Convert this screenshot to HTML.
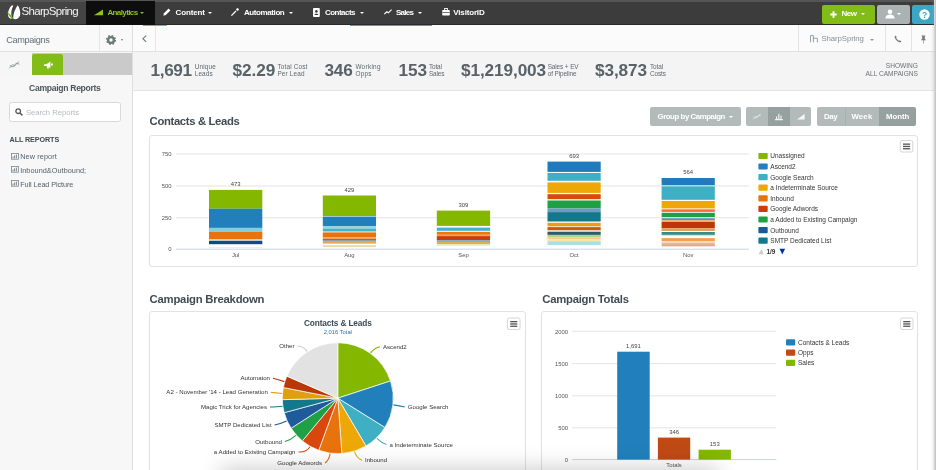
<!DOCTYPE html>
<html><head><meta charset="utf-8"><title>SharpSpring Campaigns</title>
<style>
*{box-sizing:border-box;margin:0;padding:0}
html,body{width:936px;height:470px;overflow:hidden;background:#fff;font-family:"Liberation Sans",sans-serif;color:#4a5258}
.abs{position:absolute}
svg{position:absolute;overflow:visible}
#nav{position:absolute;left:0;top:0;width:934px;height:25px;background:#3c3c3c;border-top:2px solid #555;border-bottom:1px solid #2a2a2a}
#logo{position:absolute;left:0;top:0;width:86px;height:22px;background:#444}
#logo span{position:absolute;left:21.5px;top:3.1px;font-size:11.5px;color:#f2f2f2;letter-spacing:-0.68px}
#ana{position:absolute;left:86px;top:-1px;width:69px;height:24px;background:#0d0d0d}
.ni{position:absolute;top:5.5px;font-size:8px;font-weight:bold;color:#fff;letter-spacing:-0.3px;white-space:nowrap}
.car{position:absolute;top:10px;width:0;height:0;border-left:2.3px solid transparent;border-right:2.3px solid transparent;border-top:2.6px solid #fff}
.btn{position:absolute;border-radius:2px}
#side{position:absolute;left:0;top:25px;width:133px;height:445px;background:#f7f7f7;border-right:1px solid #dedede}
#tb{position:absolute;left:133px;top:25px;width:801px;height:27px;background:#fbfbfb;border-bottom:1px solid #e1e1e1}
#stats{position:absolute;left:133px;top:52px;width:801px;height:38.5px;background:#f4f4f4;border-bottom:1px solid #e4e4e4}
.big{position:absolute;top:60.5px;font-size:17.2px;line-height:19px;font-weight:bold;color:#586268;letter-spacing:-0.1px;white-space:nowrap}
.sm{position:absolute;top:62.8px;font-size:6.4px;line-height:7.1px;color:#5d686e;white-space:nowrap}
.h{position:absolute;font-size:11.3px;font-weight:bold;color:#414b52;letter-spacing:-0.35px;white-space:nowrap}
.card{position:absolute;border:1px solid #e2e2e2;border-radius:3px;background:#fff}
.rp{position:absolute;left:20.2px;font-size:7.3px;color:#56626a;letter-spacing:-0.1px;white-space:nowrap}
.gb{position:absolute;top:107px;height:18.7px;background:#b3bbba;color:#fff;font-size:7.8px;font-weight:bold;letter-spacing:-0.3px;white-space:nowrap}
.gb.on{background:#96a09f}
.gb span{position:absolute;top:4.8px}
#w{position:absolute;left:0;top:0;width:936px;height:470px;overflow:hidden;filter:blur(0.55px)}
</style></head><body>
<div id="w">
<div id="nav">
 <div id="logo"><span id="lg">SharpSpring</span>
  <svg style="left:6.6px;top:3.3px" width="14" height="16" viewBox="0 0 14 16"><path d="M4.6 0.6C2.2 3.4 0.2 7.6 1.4 11.6C2.2 13.6 4 14.2 5 13.2C3.6 9.2 4.2 4.2 6.4 0.4Z" fill="#fff"/><path d="M10.8 0.2C8.4 3.6 6 8.6 6.2 13.6C8.4 15.2 11.8 14 13 10.6C13.8 7.2 12.6 3 10.8 0.2Z" fill="#fff"/><path d="M0 7.2C2 8 4.2 9.6 6.4 13.8C4.4 14 2.6 12 0 7.2Z" fill="#6cb820"/></svg>
 </div>
 <div id="ana">
  <svg style="left:8px;top:8px" width="10" height="7" viewBox="0 0 10 7"><path d="M0 6.2L9 0.6V6.2Z" fill="#8cc21b"/></svg>
  <span class="ni" id="n1" style="left:21.4px;top:6.5px;color:#8cc21b;letter-spacing:-0.6px">Analytics</span><i class="car" style="left:53.5px;top:11px;border-top-color:#8cc21b"></i></div>
 <svg style="left:163px;top:6px" width="8" height="8" viewBox="0 0 8 8"><path d="M0.3 7.7L1 5.2L5.6 0.6L7.4 2.4L2.8 7Z" fill="#fff"/></svg>
 <span class="ni" id="n2" style="left:175.6px;letter-spacing:-0.13px">Content</span><i class="car" style="left:208px"></i>
 <svg style="left:231px;top:6px" width="8" height="8" viewBox="0 0 8 8"><path d="M0.4 7.6L5 3M6.5 0.3V2.8M5.2 1.5H7.8" stroke="#fff" stroke-width="1.3" fill="none"/></svg>
 <span class="ni" id="n3" style="left:244px;letter-spacing:-0.41px">Automation</span><i class="car" style="left:289px"></i>
 <svg style="left:313.3px;top:5.5px" width="7" height="9" viewBox="0 0 7 9"><rect x="0" y="0" width="6.8" height="9" rx="1" fill="#fff"/><circle cx="3.4" cy="3.4" r="1.3" fill="#3c3c3c"/><path d="M1.4 7C1.4 5.2 5.4 5.2 5.4 7Z" fill="#3c3c3c"/></svg>
 <span class="ni" id="n4" style="left:324.9px;letter-spacing:-0.51px">Contacts</span><i class="car" style="left:360px"></i>
 <svg style="left:384px;top:7px" width="8" height="6" viewBox="0 0 8 6"><path d="M0.3 5.2L2.8 2.8L4.4 3.8L7.6 0.6" stroke="#fff" stroke-width="1.1" fill="none"/></svg>
 <span class="ni" id="n5" style="left:396px;letter-spacing:-0.72px">Sales</span><i class="car" style="left:418px"></i>
 <svg style="left:441.5px;top:6px" width="8" height="8" viewBox="0 0 8 8"><rect x="0.2" y="2" width="7.6" height="5.6" rx="0.8" fill="#fff"/><rect x="2.6" y="0.5" width="2.8" height="2" fill="none" stroke="#fff" stroke-width="0.9"/><rect x="0.2" y="4.2" width="7.6" height="0.7" fill="#3c3c3c"/></svg>
 <span class="ni" id="n6" style="left:453.3px;letter-spacing:-0.17px">VisitorID</span>
 <div class="btn" style="left:822px;top:2.5px;width:52.5px;height:19px;background:#82bc16">
  <svg style="left:8px;top:6px" width="7" height="7" viewBox="0 0 7 7"><path d="M3.5 0.3V6.7M0.3 3.5H6.7" stroke="#fff" stroke-width="1.9"/></svg>
  <span class="ni" id="n7" style="left:19.6px;top:4.5px;letter-spacing:-0.5px">New</span><i class="car" style="left:38.8px;top:8.5px"></i></div>
 <div class="btn" style="left:877px;top:2.5px;width:32.5px;height:19px;background:#aab3b2">
  <svg style="left:8px;top:4.5px" width="10" height="10" viewBox="0 0 10 10"><circle cx="5" cy="2.8" r="2.3" fill="#fff"/><path d="M0.4 9.4C0.6 6.4 3 5.6 5 5.6S9.4 6.4 9.6 9.4Z" fill="#fff"/></svg>
  <i class="car" style="left:20px;top:8.5px"></i></div>
 <div class="btn" style="left:912px;top:2.5px;width:22px;height:19px;background:#3aa7c5;border-radius:2px 0 0 2px">
  <svg style="left:6.5px;top:4px" width="11" height="11" viewBox="0 0 11 11"><circle cx="5.5" cy="5.5" r="5.2" fill="#fff"/><text x="5.5" y="8.6" font-size="8.5" font-weight="bold" fill="#3aa7c5" text-anchor="middle" font-family="Liberation Sans, sans-serif">?</text></svg></div>
</div>
<div class="abs" style="left:350px;top:25px;width:82px;height:1px;background:#4a9fd0;z-index:5"></div>
<div class="abs" style="left:143px;top:25px;width:24px;height:1px;background:#6aaed6;z-index:5"></div>
<div id="side">
 <div class="abs" style="left:0;top:0;width:132px;height:27px;background:#f9f9f9;border-bottom:1px solid #e0e0e0"></div>
 <div class="abs" style="left:98.5px;top:0;width:1px;height:26px;background:#e6e6e6"></div>
 <div class="abs" id="s1" style="left:6.2px;top:9.8px;font-size:9.2px;color:#5d6f7a;letter-spacing:-0.35px">Campaigns</div>
 <svg style="left:106px;top:10px" width="10" height="10" viewBox="0 0 10 10"><circle cx="5" cy="5" r="2.9" fill="none" stroke="#6a7a7a" stroke-width="2.4"/><circle cx="5" cy="5" r="4.3" fill="none" stroke="#6a7a7a" stroke-width="1.5" stroke-dasharray="1.7 1.68"/></svg>
 <i class="car" style="left:120.5px;top:14px;border-top-color:#6a7a7a;border-left-width:1.9px;border-right-width:1.9px;border-top-width:2.2px"></i>
 <div class="abs" style="left:0;top:27.5px;width:132px;height:22px;background:#cacaca"></div>
 <div class="abs" style="left:0;top:27.5px;width:31.6px;height:22px;background:#f6f6f6"></div>
 <svg style="left:9.4px;top:36px" width="11" height="8" viewBox="0 0 11 8"><path d="M0.3 7.2L3.6 3.6L5.6 4.8L10 0.6M0.8 4.4L4 6L7.2 2.2L10.4 3.2" stroke="#8a9498" stroke-width="0.9" fill="none"/></svg>
 <div class="abs" style="left:31.6px;top:29px;width:31.6px;height:20.5px;background:#82bc16;border-radius:2.5px 2.5px 0 0"></div>
 <svg style="left:43.5px;top:36px" width="9" height="8" viewBox="0 0 9 8"><path d="M0.2 3.2H2.4L6.4 0.4V7L2.4 5H0.2Z M2.6 5.2L3.6 7.8H5L4.2 5.6Z M7 2.4H8.8V4.6H7Z" fill="#fff"/></svg>
 <div class="abs" id="s2" style="left:29px;top:58px;font-size:8.6px;font-weight:bold;color:#4a565e;letter-spacing:-0.3px;white-space:nowrap">Campaign Reports</div>
 <div class="abs" style="left:9.3px;top:77.4px;width:112px;height:19.8px;border:1px solid #d9d9d9;border-radius:2.5px;background:#fff">
  <svg style="left:5px;top:5px" width="8" height="8" viewBox="0 0 8 8"><circle cx="3.2" cy="3.2" r="2.3" fill="none" stroke="#555" stroke-width="1.3"/><path d="M5 5L7.4 7.4" stroke="#555" stroke-width="1.5"/></svg>
  <span class="abs" id="s3" style="left:15.6px;top:4.8px;font-size:7.65px;color:#b4babd;white-space:nowrap">Search Reports</span></div>
 <div class="abs" id="s4" style="left:9.6px;top:109.5px;font-size:7.2px;font-weight:bold;color:#3f484e;letter-spacing:-0.1px;white-space:nowrap">ALL REPORTS</div>
 <svg style="left:10.6px;top:127.8px" width="8" height="7" viewBox="0 0 8 7"><rect x="0.4" y="0.4" width="7" height="5.8" fill="none" stroke="#7a868c" stroke-width="0.8"/><path d="M2 5.4V3.6M3.6 5.4V2.4M5.4 5.4V1.6" stroke="#7a868c" stroke-width="1"/></svg>
 <svg style="left:10.6px;top:141.4px" width="8" height="7" viewBox="0 0 8 7"><rect x="0.4" y="0.4" width="7" height="5.8" fill="none" stroke="#7a868c" stroke-width="0.8"/><path d="M2 5.4V3.6M3.6 5.4V2.4M5.4 5.4V1.6" stroke="#7a868c" stroke-width="1"/></svg>
 <svg style="left:10.6px;top:154.8px" width="8" height="7" viewBox="0 0 8 7"><rect x="0.4" y="0.4" width="7" height="5.8" fill="none" stroke="#7a868c" stroke-width="0.8"/><path d="M2 5.4V3.6M3.6 5.4V2.4M5.4 5.4V1.6" stroke="#7a868c" stroke-width="1"/></svg>
 <div class="rp" id="r1" style="top:127.3px;letter-spacing:0.1px">New report</div>
 <div class="rp" id="r2" style="top:141px;letter-spacing:0.04px">Inbound&amp;Outbound;</div>
 <div class="rp" id="r3" style="top:154.5px">Full Lead Picture</div>
</div>
<div id="tb">
 <svg style="left:9px;top:10px" width="5" height="8" viewBox="0 0 5 8"><path d="M4.2 0.6L0.9 3.7L4.2 6.8" stroke="#6a7a82" stroke-width="1.1" fill="none"/></svg>
 <div class="abs" style="left:21.8px;top:0;width:1px;height:26px;background:#e6e6e6"></div>
 <div class="abs" style="left:665.2px;top:0;width:1px;height:26px;background:#e4e4e4"></div>
 <div class="abs" style="left:752.2px;top:0;width:1px;height:26px;background:#e4e4e4"></div>
 <div class="abs" style="left:778.2px;top:0;width:1px;height:26px;background:#e4e4e4"></div>
 <svg style="left:677px;top:10px" width="8" height="8" viewBox="0 0 8 8"><path d="M0.5 7.4V0.6H3.4V7.4M3.4 3.2H7.4V7.4" stroke="#8d979c" stroke-width="0.9" fill="none"/></svg>
 <div class="abs" id="t1" style="left:688.5px;top:8.8px;font-size:7.8px;color:#868f95;letter-spacing:-0.1px;white-space:nowrap">SharpSpring</div>
 <i class="car" style="left:736.7px;top:13.5px;border-top-color:#8d979c;border-left-width:2.1px;border-right-width:2.1px;border-top-width:2.4px"></i>
 <svg style="left:761px;top:9.5px" width="8" height="8" viewBox="0 0 8 8"><path d="M1.2 0.5C0.2 1.4 0.6 3.4 2.6 5.4S6.6 7.8 7.5 6.8L6 5.2L5 5.8C4 5.4 2.6 4 2.2 3L2.8 2Z" fill="#6f7c82"/></svg>
 <svg style="left:787px;top:9.5px" width="7" height="9" viewBox="0 0 7 9"><path d="M1.6 0.4H5.4V1.2H4.8V3.8L6.2 5.2H0.8L2.2 3.8V1.2H1.6Z M3.2 5.2H3.8V8.6H3.2Z" fill="#6f7c82"/></svg>
</div>
<div id="stats"></div>
<span class="big" id="b1" style="left:150.6px;letter-spacing:-0.4px">1,691</span><span class="sm" id="m1" style="left:194.7px;letter-spacing:0.15px">Unique<br>Leads</span>
<span class="big" id="b2" style="left:232.6px">$2.29</span><span class="sm" id="m2" style="left:277.4px;letter-spacing:0.17px">Total Cost<br>Per Lead</span>
<span class="big" id="b3" style="left:324.4px">346</span><span class="sm" id="m3" style="left:355.4px;letter-spacing:0.3px">Working<br>Opps</span>
<span class="big" id="b4" style="left:398.6px">153</span><span class="sm" id="m4" style="left:428.9px;letter-spacing:-0.1px">Total<br>Sales</span>
<span class="big" id="b5" style="left:461px">$1,219,003</span><span class="sm" id="m5" style="left:547.7px;letter-spacing:-0.1px">Sales + EV<br>of Pipeline</span>
<span class="big" id="b6" style="left:595px">$3,873</span><span class="sm" id="m6" style="left:650px;letter-spacing:-0.1px">Total<br>Costs</span>
<div class="sm" id="m7" style="left:830px;top:62.4px;width:88px;text-align:right;font-size:6.6px;line-height:7.6px;color:#6a7175">SHOWING<br>ALL CAMPAIGNS</div>

<div class="h" id="h1" style="left:149.6px;top:115px">Contacts &amp; Leads</div>
<div class="gb btn" style="left:649.5px;width:91px"><span id="g1" style="left:8px;letter-spacing:-0.42px">Group by Campaign</span><i class="car" style="left:79.5px;top:8.5px;border-left-width:2px;border-right-width:2px;border-top-width:2.3px"></i></div>
<div class="gb btn" style="left:746px;width:22px;border-radius:2px 0 0 2px"><svg style="left:7px;top:6px" width="8" height="7" viewBox="0 0 8 7"><path d="M0.3 6.2L3 3L4.6 4.2L7.6 0.6M0.6 3.8L3.2 5.2L5.6 2.2L7.8 3" stroke="#dfe4e4" stroke-width="0.8" fill="none"/></svg></div>
<div class="gb on" style="left:768px;width:21.5px"><svg style="left:7px;top:6px" width="8" height="7" viewBox="0 0 8 7"><path d="M0 6.6H8M1.6 6V3.6M3.8 6V0.8M6 6V2.6" stroke="#eef2f2" stroke-width="1.2" fill="none"/></svg></div>
<div class="gb btn" style="left:789.5px;width:21.3px;border-radius:0 2px 2px 0"><svg style="left:7px;top:6px" width="8" height="7" viewBox="0 0 8 7"><path d="M0 6.6L7.6 1V6.6Z" fill="#f4f6f6"/></svg></div>
<div class="gb btn" style="left:817px;width:28px;border-radius:2px 0 0 2px"><span id="g2" style="left:7px">Day</span></div>
<div class="gb" style="left:845px;width:34px;border-left:1px solid #a8b1b0"><span id="g3" style="left:5.4px;letter-spacing:0.2px">Week</span></div>
<div class="gb on btn" style="left:879px;width:37px;border-radius:0 2px 2px 0"><span id="g4" style="left:7px;letter-spacing:0px">Month</span></div>
<div class="card" style="left:148.6px;top:134.6px;width:769.4px;height:132.6px"></div>
<div class="h" id="h2" style="left:149.6px;top:292.9px;letter-spacing:-0.22px">Campaign Breakdown</div>
<div class="card" style="left:148.6px;top:310.6px;width:377.4px;height:170px"></div>
<div class="h" id="h3" style="left:542.3px;top:292.9px;letter-spacing:-0.25px">Campaign Totals</div>
<div class="card" style="left:541.2px;top:310.6px;width:376.8px;height:170px"></div>
<!--CHARTS--><svg class="abs" style="left:0;top:0" width="936" height="470" viewBox="0 0 936 470" font-family="Liberation Sans, sans-serif">
<rect x="176" y="153.5" width="573" height="1" fill="#e4e4e4"/>
<text x="171.5" y="156.2" font-size="5.9" fill="#555" text-anchor="end">750</text>
<rect x="176" y="185.5" width="573" height="1" fill="#e4e4e4"/>
<text x="171.5" y="188.2" font-size="5.9" fill="#555" text-anchor="end">500</text>
<rect x="176" y="217.2" width="573" height="1" fill="#e4e4e4"/>
<text x="171.5" y="219.89999999999998" font-size="5.9" fill="#555" text-anchor="end">250</text>
<rect x="176" y="248.7" width="573" height="1" fill="#c8d4e0"/>
<text x="171.5" y="251.39999999999998" font-size="5.9" fill="#555" text-anchor="end">0</text>
<rect x="209" y="189.9" width="53.3" height="18.80" fill="#84b800"/>
<rect x="209" y="208.7" width="53.3" height="19.20" fill="#2180bb"/>
<rect x="209" y="227.9" width="53.3" height="4.00" fill="#7fd0dd"/>
<rect x="209" y="231.9" width="53.3" height="7.50" fill="#e8720c"/>
<rect x="209" y="240.7" width="53.3" height="3.50" fill="#0d4a8a"/>
<rect x="209" y="247.2" width="53.3" height="0.70" fill="#f3e6d2"/>
<text x="235.65" y="185.9" font-size="5.9" fill="#444" text-anchor="middle">473</text>
<text x="235.65" y="256.8" font-size="5.9" fill="#555" text-anchor="middle">Jul</text>
<rect x="322.8" y="195.5" width="53.2" height="20.60" fill="#84b800"/>
<rect x="322.8" y="216.6" width="53.2" height="9.70" fill="#2180bb"/>
<rect x="322.8" y="226.3" width="53.2" height="2.40" fill="#8fd3de"/>
<rect x="322.8" y="228.7" width="53.2" height="2.80" fill="#3fb3c8"/>
<rect x="322.8" y="232.4" width="53.2" height="4.80" fill="#e8720c"/>
<rect x="322.8" y="237.2" width="53.2" height="1.90" fill="#f0a060"/>
<rect x="322.8" y="239.1" width="53.2" height="1.60" fill="#2a7ab8"/>
<rect x="322.8" y="240.7" width="53.2" height="2.90" fill="#e0a858"/>
<rect x="322.8" y="245.2" width="53.2" height="1.90" fill="#e3dba3"/>
<text x="349.40000000000003" y="191.5" font-size="5.9" fill="#444" text-anchor="middle">429</text>
<text x="349.40000000000003" y="256.8" font-size="5.9" fill="#555" text-anchor="middle">Aug</text>
<rect x="436.8" y="210.6" width="53.3" height="15.30" fill="#84b800"/>
<rect x="436.8" y="227.6" width="53.3" height="3.20" fill="#3fb3cc"/>
<rect x="436.8" y="231.8" width="53.3" height="3.00" fill="#f0780a"/>
<rect x="436.8" y="234.8" width="53.3" height="1.30" fill="#f0a060"/>
<rect x="436.8" y="236.1" width="53.3" height="3.90" fill="#d03c08"/>
<rect x="436.8" y="240" width="53.3" height="2.00" fill="#8ab0c8"/>
<rect x="436.8" y="242" width="53.3" height="2.20" fill="#e0b050"/>
<rect x="436.8" y="244.2" width="53.3" height="1.50" fill="#e3eaa8"/>
<text x="463.45" y="206.6" font-size="5.9" fill="#444" text-anchor="middle">309</text>
<text x="463.45" y="256.8" font-size="5.9" fill="#555" text-anchor="middle">Sep</text>
<rect x="547.5" y="161.6" width="53.2" height="10.30" fill="#1f7bbd"/>
<rect x="547.5" y="173" width="53.2" height="7.80" fill="#3fb0c4"/>
<rect x="547.5" y="182.4" width="53.2" height="10.50" fill="#eda807"/>
<rect x="547.5" y="194.2" width="53.2" height="5.00" fill="#d84a0c"/>
<rect x="547.5" y="200.5" width="53.2" height="8.00" fill="#1fa045"/>
<rect x="547.5" y="208.5" width="53.2" height="3.60" fill="#6b9bc0"/>
<rect x="547.5" y="212.1" width="53.2" height="9.40" fill="#13788c"/>
<rect x="547.5" y="222.8" width="53.2" height="3.20" fill="#e8a010"/>
<rect x="547.5" y="226" width="53.2" height="1.10" fill="#f3dcb8"/>
<rect x="547.5" y="227.1" width="53.2" height="3.30" fill="#cc5a0c"/>
<rect x="547.5" y="230.4" width="53.2" height="1.40" fill="#f0e0c8"/>
<rect x="547.5" y="231.8" width="53.2" height="3.10" fill="#2c5a70"/>
<rect x="547.5" y="234.9" width="53.2" height="2.30" fill="#a8d888"/>
<rect x="547.5" y="237.2" width="53.2" height="2.20" fill="#f8c890"/>
<rect x="547.5" y="239.4" width="53.2" height="1.80" fill="#f8e8a8"/>
<rect x="547.5" y="241.2" width="53.2" height="3.80" fill="#a8e0e0"/>
<text x="574.1" y="157.6" font-size="5.9" fill="#444" text-anchor="middle">693</text>
<text x="574.1" y="256.8" font-size="5.9" fill="#555" text-anchor="middle">Oct</text>
<rect x="661.6" y="178" width="53.2" height="7.10" fill="#1f7bbd"/>
<rect x="661.6" y="185.1" width="53.2" height="1.30" fill="#a0d8e0"/>
<rect x="661.6" y="186.4" width="53.2" height="13.40" fill="#3fb0c4"/>
<rect x="661.6" y="201" width="53.2" height="7.10" fill="#eda807"/>
<rect x="661.6" y="208.1" width="53.2" height="1.30" fill="#f6d890"/>
<rect x="661.6" y="209.4" width="53.2" height="2.50" fill="#f07040"/>
<rect x="661.6" y="212.8" width="53.2" height="4.30" fill="#1fa045"/>
<rect x="661.6" y="218.2" width="53.2" height="1.90" fill="#5a90c0"/>
<rect x="661.6" y="220.1" width="53.2" height="1.90" fill="#e8b070"/>
<rect x="661.6" y="222" width="53.2" height="6.20" fill="#b83808"/>
<rect x="661.6" y="228.2" width="53.2" height="2.80" fill="#e0a060"/>
<rect x="661.6" y="232" width="53.2" height="2.90" fill="#3a8a88"/>
<rect x="661.6" y="234.9" width="53.2" height="1.30" fill="#d0e8d0"/>
<rect x="661.6" y="238.1" width="53.2" height="2.90" fill="#f0a050"/>
<rect x="661.6" y="241" width="53.2" height="2.10" fill="#f8d8c0"/>
<rect x="661.6" y="243.1" width="53.2" height="1.90" fill="#d8b890"/>
<rect x="661.6" y="245" width="53.2" height="1.30" fill="#f0a080"/>
<text x="688.2" y="174" font-size="5.9" fill="#444" text-anchor="middle">564</text>
<text x="688.2" y="256.8" font-size="5.9" fill="#555" text-anchor="middle">Nov</text>
<clipPath id="lc"><rect x="750" y="153" width="160" height="110"/></clipPath><g clip-path="url(#lc)">
<rect x="758.4" y="152.8" width="9.3" height="6.2" rx="1" fill="#84b800"/>
<text x="770.3" y="158.3" font-size="6.5" fill="#333">Unassigned</text>
<rect x="758.4" y="163.4" width="9.3" height="6.2" rx="1" fill="#2180bb"/>
<text x="770.3" y="168.9" font-size="6.5" fill="#333">Ascend2</text>
<rect x="758.4" y="174.0" width="9.3" height="6.2" rx="1" fill="#3fb0c4"/>
<text x="770.3" y="179.5" font-size="6.5" fill="#333">Google Search</text>
<rect x="758.4" y="184.60000000000002" width="9.3" height="6.2" rx="1" fill="#eda807"/>
<text x="770.3" y="190.10000000000002" font-size="6.5" fill="#333">a Indeterminate Source</text>
<rect x="758.4" y="195.20000000000002" width="9.3" height="6.2" rx="1" fill="#e8720c"/>
<text x="770.3" y="200.70000000000002" font-size="6.5" fill="#333">Inbound</text>
<rect x="758.4" y="205.8" width="9.3" height="6.2" rx="1" fill="#d03c08"/>
<text x="770.3" y="211.3" font-size="6.5" fill="#333">Google Adwords</text>
<rect x="758.4" y="216.4" width="9.3" height="6.2" rx="1" fill="#1fa045"/>
<text x="770.3" y="221.9" font-size="6.5" fill="#333">a Added to Existing Campaign</text>
<rect x="758.4" y="227.0" width="9.3" height="6.2" rx="1" fill="#1a5a96"/>
<text x="770.3" y="232.5" font-size="6.5" fill="#333">Outbound</text>
<rect x="758.4" y="237.60000000000002" width="9.3" height="6.2" rx="1" fill="#13788c"/>
<text x="770.3" y="243.10000000000002" font-size="6.5" fill="#333">SMTP Dedicated List</text>
</g>
<path d="M758.6 254.2 l2.6 -5 l2.6 5z" fill="#ccc"/><text x="766.5" y="254" font-size="6.4" font-weight="bold" fill="#333">1/9</text><path d="M779.5 248.8 h5.6 l-2.8 5.6z" fill="#039"/>
<rect x="900.3" y="140.5" width="12.5" height="11.5" rx="1.5" fill="#fff" stroke="#ccc" stroke-width="0.8"/>
<rect x="903.0" y="143.5" width="7.1" height="1.3" fill="#555"/>
<rect x="903.0" y="145.8" width="7.1" height="1.3" fill="#555"/>
<rect x="903.0" y="148.1" width="7.1" height="1.3" fill="#555"/>
<rect x="507.5" y="318" width="12.5" height="11.5" rx="1.5" fill="#fff" stroke="#ccc" stroke-width="0.8"/>
<rect x="510.2" y="321.0" width="7.1" height="1.3" fill="#555"/>
<rect x="510.2" y="323.3" width="7.1" height="1.3" fill="#555"/>
<rect x="510.2" y="325.6" width="7.1" height="1.3" fill="#555"/>
<rect x="900.5" y="318" width="12.5" height="11.5" rx="1.5" fill="#fff" stroke="#ccc" stroke-width="0.8"/>
<rect x="903.2" y="321.0" width="7.1" height="1.3" fill="#555"/>
<rect x="903.2" y="323.3" width="7.1" height="1.3" fill="#555"/>
<rect x="903.2" y="325.6" width="7.1" height="1.3" fill="#555"/>
<path d="M337.8 398.2 L337.80 342.70 A55.5 55.5 0 0 1 390.55 380.96Z" fill="#84b800" stroke="#fff" stroke-width="0.7" stroke-linejoin="round"/>
<path d="M337.8 398.2 L390.55 380.96 A55.5 55.5 0 0 1 384.92 427.53Z" fill="#2180bb" stroke="#fff" stroke-width="0.7" stroke-linejoin="round"/>
<path d="M337.8 398.2 L384.92 427.53 A55.5 55.5 0 0 1 365.97 446.02Z" fill="#3fb0c4" stroke="#fff" stroke-width="0.7" stroke-linejoin="round"/>
<path d="M337.8 398.2 L365.97 446.02 A55.5 55.5 0 0 1 341.86 453.55Z" fill="#eda807" stroke="#fff" stroke-width="0.7" stroke-linejoin="round"/>
<path d="M337.8 398.2 L341.86 453.55 A55.5 55.5 0 0 1 318.73 450.32Z" fill="#e8720c" stroke="#fff" stroke-width="0.7" stroke-linejoin="round"/>
<path d="M337.8 398.2 L318.73 450.32 A55.5 55.5 0 0 1 302.35 440.90Z" fill="#d8480c" stroke="#fff" stroke-width="0.7" stroke-linejoin="round"/>
<path d="M337.8 398.2 L302.35 440.90 A55.5 55.5 0 0 1 291.15 428.26Z" fill="#1fa045" stroke="#fff" stroke-width="0.7" stroke-linejoin="round"/>
<path d="M337.8 398.2 L291.15 428.26 A55.5 55.5 0 0 1 284.22 412.66Z" fill="#1f5a9a" stroke="#fff" stroke-width="0.7" stroke-linejoin="round"/>
<path d="M337.8 398.2 L284.22 412.66 A55.5 55.5 0 0 1 282.32 399.65Z" fill="#13788c" stroke="#fff" stroke-width="0.7" stroke-linejoin="round"/>
<path d="M337.8 398.2 L282.32 399.65 A55.5 55.5 0 0 1 283.34 387.52Z" fill="#dfa010" stroke="#fff" stroke-width="0.7" stroke-linejoin="round"/>
<path d="M337.8 398.2 L283.34 387.52 A55.5 55.5 0 0 1 286.86 376.16Z" fill="#b83808" stroke="#fff" stroke-width="0.7" stroke-linejoin="round"/>
<path d="M337.8 398.2 L286.86 376.16 A55.5 55.5 0 0 1 337.80 342.70Z" fill="#e2e2e2" stroke="#fff" stroke-width="0.7" stroke-linejoin="round"/>
<text x="337.8" y="326" font-size="8.3" font-weight="bold" fill="#3a4a55" text-anchor="middle" letter-spacing="-0.15">Contacts &amp; Leads</text>
<text x="337.8" y="333.5" font-size="5.8" fill="#2a6ea8" text-anchor="middle">2,016 Total</text>
<text x="383" y="348.7" font-size="6.1" fill="#333" text-anchor="start">Ascend2</text>
<path d="M370.7 352.9 Q374.5 347.6 380.0 346.7" fill="none" stroke="#84b800" stroke-width="1.1"/>
<text x="407.8" y="409" font-size="6.1" fill="#333" text-anchor="start">Google Search</text>
<path d="M393.4 404.9 Q399.8 405.7 404.8 407.0" fill="none" stroke="#2180bb" stroke-width="1.1"/>
<text x="389.5" y="446.5" font-size="6.1" fill="#333" text-anchor="start">a Indeterminate Source</text>
<path d="M376.9 438.3 Q381.5 442.9 386.5 444.5" fill="none" stroke="#3fb0c4" stroke-width="1.1"/>
<text x="365" y="462.3" font-size="6.1" fill="#333" text-anchor="start">Inbound</text>
<path d="M354.5 451.7 Q356.4 457.9 362.0 460.3" fill="none" stroke="#eda807" stroke-width="1.1"/>
<text x="322" y="465" font-size="6.1" fill="#333" text-anchor="end">Google Adwords</text>
<path d="M330.1 453.7 Q329.2 460.1 325.0 463.0" fill="none" stroke="#e8720c" stroke-width="1.1"/>
<text x="295.5" y="454" font-size="6.1" fill="#333" text-anchor="end">a Added to Existing Campaign</text>
<path d="M309.9 446.7 Q306.6 452.4 298.5 452.0" fill="none" stroke="#d8480c" stroke-width="1.1"/>
<text x="282" y="443.5" font-size="6.1" fill="#333" text-anchor="end">Outbound</text>
<path d="M295.9 435.3 Q291.0 439.7 285.0 441.5" fill="none" stroke="#1fa045" stroke-width="1.1"/>
<text x="271.6" y="427" font-size="6.1" fill="#333" text-anchor="end">SMTP Dedicated List</text>
<path d="M286.6 420.9 Q280.7 423.6 274.6 425.0" fill="none" stroke="#1f5a9a" stroke-width="1.1"/>
<text x="267" y="409" font-size="6.1" fill="#333" text-anchor="end">Magic Trick for Agencies</text>
<path d="M282.4 406.3 Q276.0 407.2 270.0 407.0" fill="none" stroke="#13788c" stroke-width="1.1"/>
<text x="267.8" y="394.4" font-size="6.1" fill="#333" text-anchor="end">A2 - November '14 - Lead Generation</text>
<path d="M282.0 393.5 Q275.5 393.0 270.8 392.4" fill="none" stroke="#dfa010" stroke-width="1.1"/>
<text x="270" y="380.3" font-size="6.1" fill="#333" text-anchor="end">Automaton</text>
<path d="M284.3 381.6 Q278.1 379.7 273.0 378.3" fill="none" stroke="#b83808" stroke-width="1.1"/>
<text x="294.5" y="348" font-size="6.1" fill="#333" text-anchor="end">Other</text>
<path d="M307.1 351.4 Q303.5 346.0 297.5 346.0" fill="none" stroke="#ccc" stroke-width="1.1"/>
<rect x="572.3" y="330.8" width="204" height="1" fill="#e4e4e4"/>
<text x="568" y="333.5" font-size="5.9" fill="#555" text-anchor="end">2000</text>
<rect x="572.3" y="363.1" width="204" height="1" fill="#e4e4e4"/>
<text x="568" y="365.8" font-size="5.9" fill="#555" text-anchor="end">1500</text>
<rect x="572.3" y="395.3" width="204" height="1" fill="#e4e4e4"/>
<text x="568" y="398.0" font-size="5.9" fill="#555" text-anchor="end">1000</text>
<rect x="572.3" y="427.3" width="204" height="1" fill="#e4e4e4"/>
<text x="568" y="430.0" font-size="5.9" fill="#555" text-anchor="end">500</text>
<rect x="572.3" y="459.1" width="204" height="1" fill="#c8d4e0"/>
<text x="568" y="461.8" font-size="5.9" fill="#555" text-anchor="end">0</text>
<rect x="617.2" y="351.7" width="32.5" height="107.90" fill="#2180bb"/>
<text x="633.45" y="348.3" font-size="5.9" fill="#444" text-anchor="middle">1,691</text>
<rect x="657.9" y="437.6" width="32.3" height="22.00" fill="#c04a14"/>
<text x="674.05" y="434.20000000000005" font-size="5.9" fill="#444" text-anchor="middle">346</text>
<rect x="698.6" y="449.7" width="32.3" height="9.90" fill="#84b800"/>
<text x="714.75" y="446.3" font-size="5.9" fill="#444" text-anchor="middle">153</text>
<text x="674" y="467" font-size="5.9" fill="#555" text-anchor="middle">Totals</text>
<rect x="786" y="339.2" width="9.2" height="6.2" rx="1" fill="#2180bb"/>
<text x="798" y="344.7" font-size="6.5" fill="#333">Contacts &amp; Leads</text>
<rect x="786" y="349.5" width="9.2" height="6.2" rx="1" fill="#c04a14"/>
<text x="798" y="355.0" font-size="6.5" fill="#333">Opps</text>
<rect x="786" y="359.8" width="9.2" height="6.2" rx="1" fill="#84b800"/>
<text x="798" y="365.3" font-size="6.5" fill="#333">Sales</text>
</svg><!--/CHARTS-->
<div class="abs" style="left:224px;top:472px;width:490px;height:20px;box-shadow:0 0 22px 4px rgba(0,0,0,0.2)"></div>
<div class="abs" style="left:934px;top:0;width:2px;height:470px;background:#f4f4f4"></div><div class="abs" style="left:931px;top:0;width:5px;height:470px;background:linear-gradient(to right,rgba(150,150,150,0),rgba(150,150,150,0.18) 50%,rgba(140,140,140,0.5))"></div>
</div>
</body></html>
